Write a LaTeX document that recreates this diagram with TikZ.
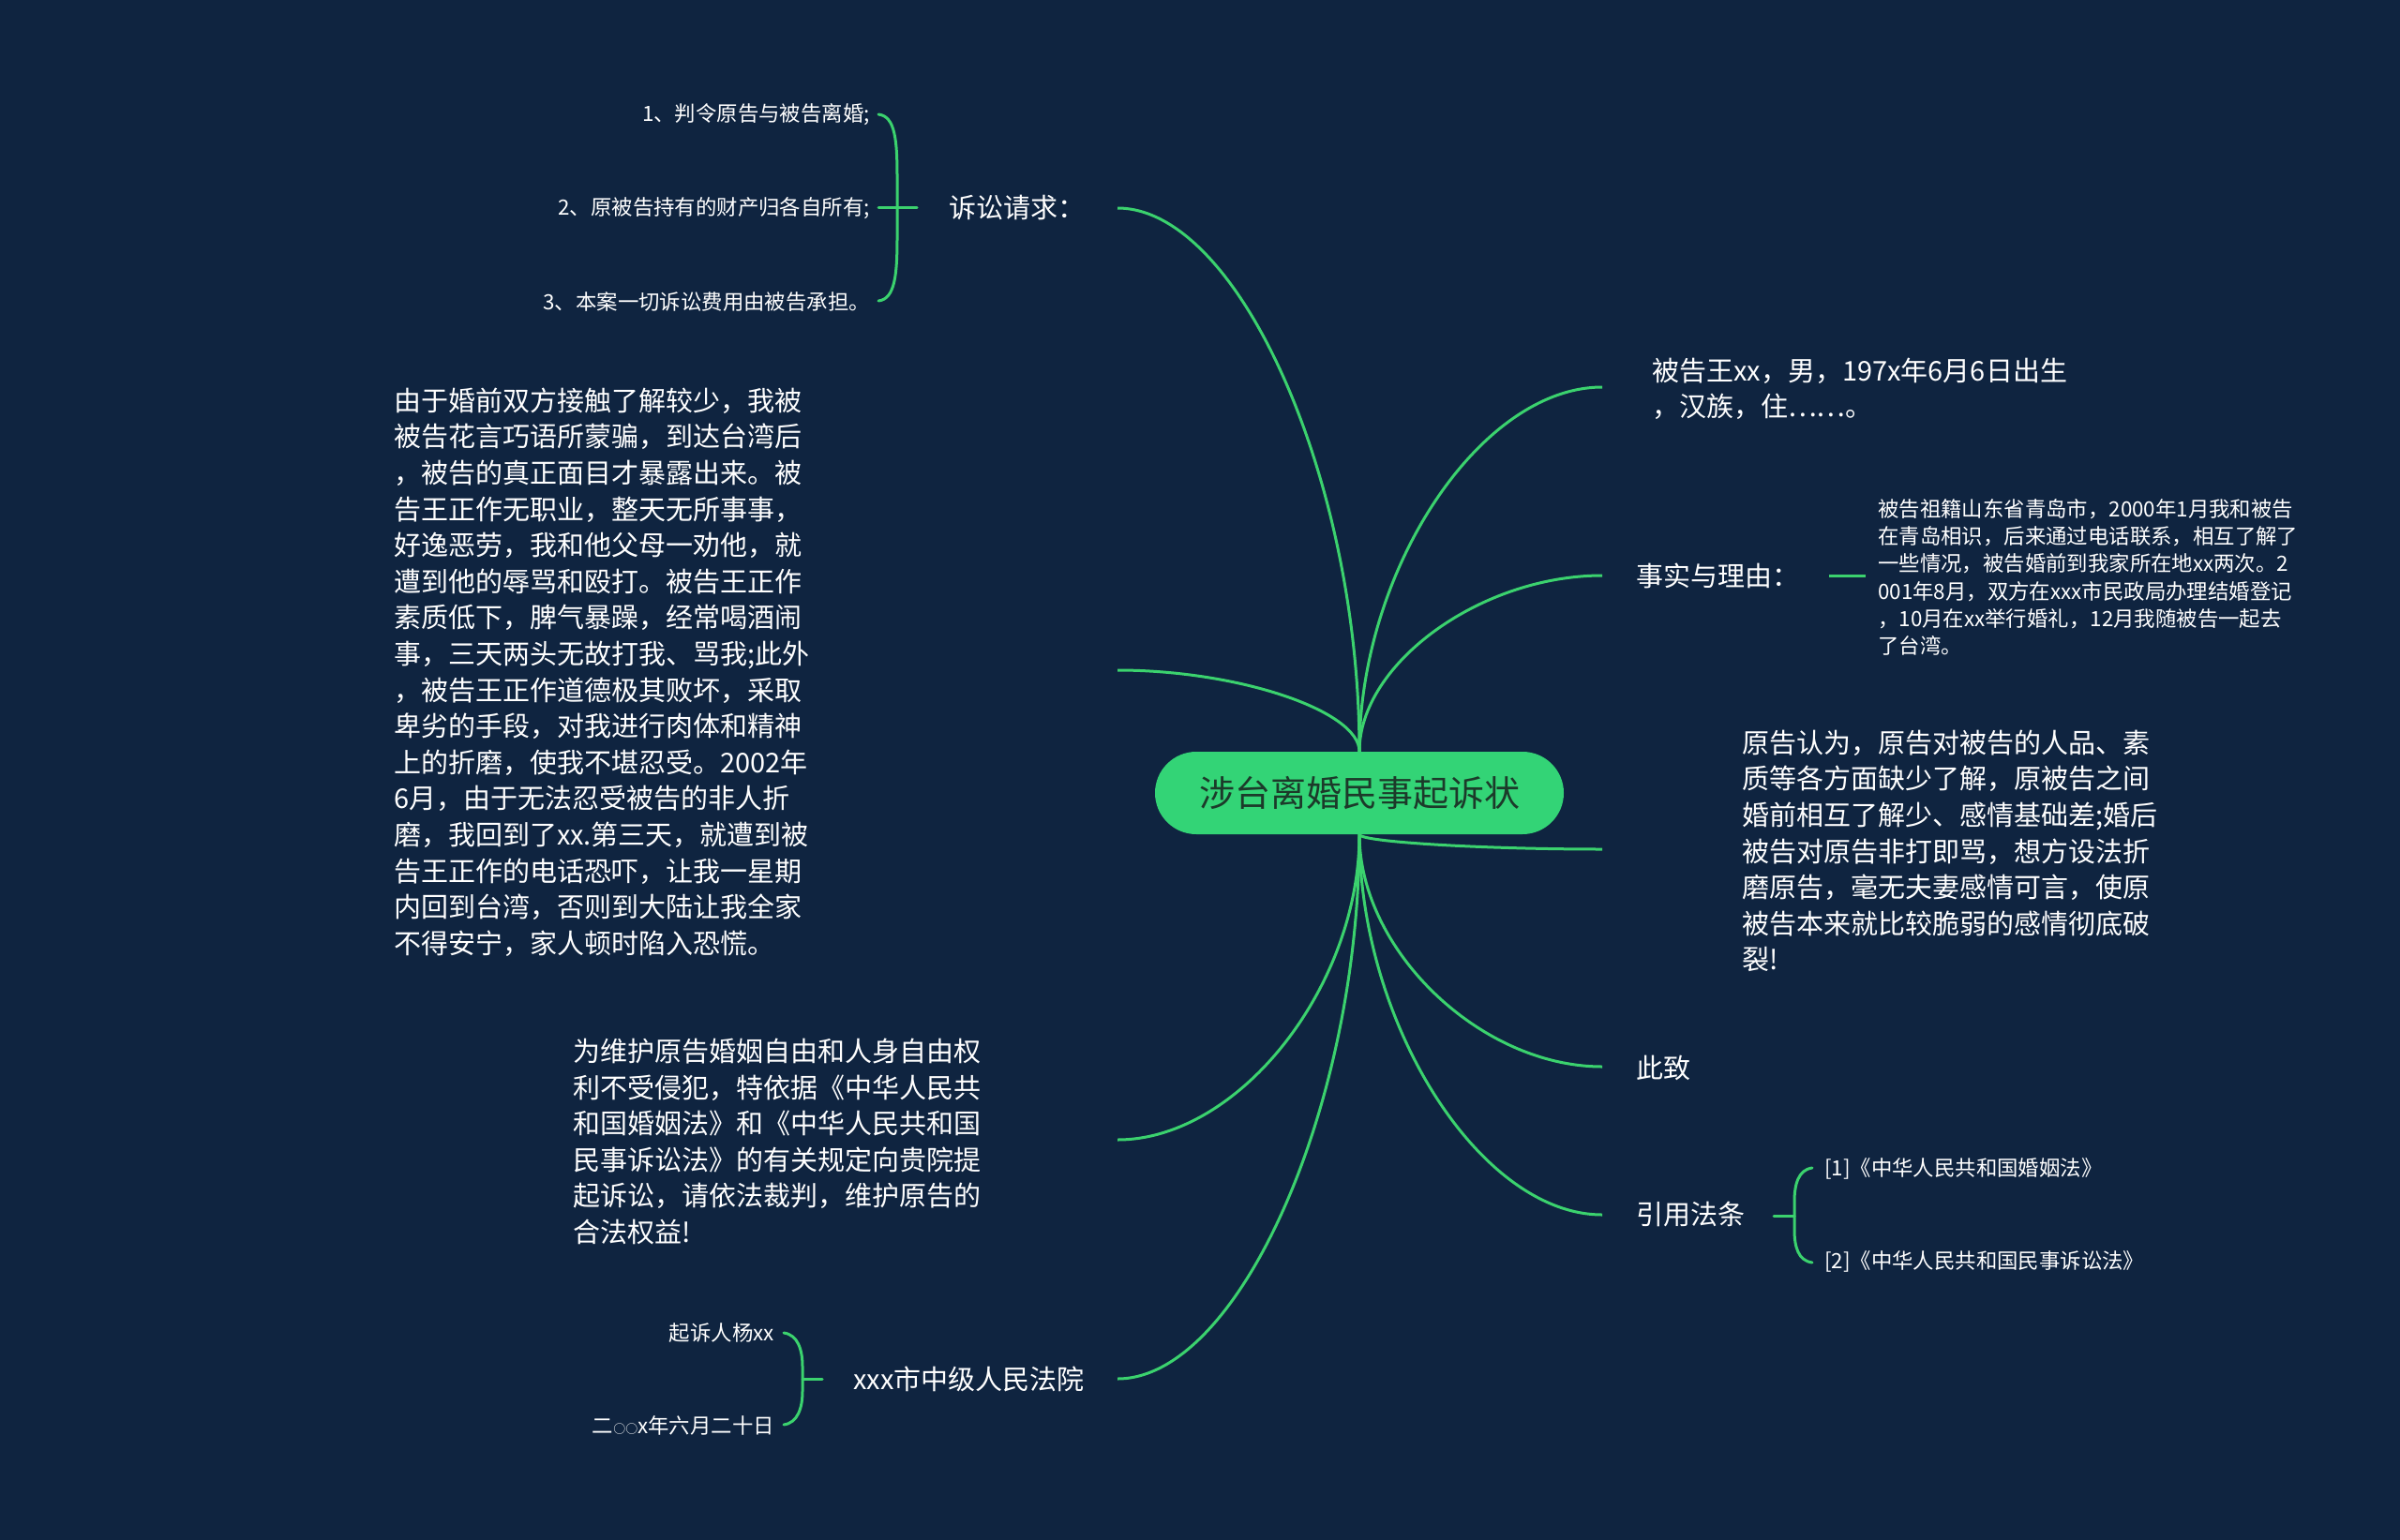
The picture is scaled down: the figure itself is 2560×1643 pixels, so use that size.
\documentclass[tikz,border=0pt]{standalone}
\usepackage{fontspec}
\setmainfont{Noto Sans CJK SC}
\usetikzlibrary{calc}
\definecolor{bg}{HTML}{0F2440}
\definecolor{lineG}{HTML}{3BD26E}
\definecolor{ctrFill}{HTML}{33D476}
\definecolor{ctrText}{HTML}{1C3A2A}
\tikzset{
  mainTxt/.style={text=white, font=\fontsize{29}{38.6}\selectfont, inner sep=0pt, align=left},
  smallTxt/.style={text=white, font=\fontsize{22.4}{29.3}\selectfont, inner sep=0pt, align=left},
  link/.style={draw=lineG, line width=3pt},
  brk/.style={draw=lineG, line width=3pt, line cap=round},
  ctrBox/.style={fill=ctrFill, rounded corners=44pt, minimum width=436pt, minimum height=88pt,
    inner sep=0pt, text=ctrText, font=\fontsize{38}{40}\selectfont}
}
\begin{document}
\begin{tikzpicture}[x=1pt,y=-1pt]
\fill[bg] (0,0) rectangle (2560,1643);
\useasboundingbox (0,0) rectangle (2560,1643);

% centre
\node[ctrBox] (ctr) at (1450,846) {涉台离婚民事起诉状};

% connector ends
\coordinate (eL1) at (1192,222);
\coordinate (eL2) at (1192,715);
\coordinate (eL3) at (1192,1216);
\coordinate (eL4) at (1192,1471);
\coordinate (eR1) at (1709,413);
\coordinate (eR2) at (1709,614);
\coordinate (eR3) at (1709,906);
\coordinate (eR4) at (1709,1138);
\coordinate (eR5) at (1709,1296);

% main connectors
\foreach \s/\e in {ctr.north/eL1,ctr.north/eL2,ctr.south/eL3,ctr.south/eL4,
                   ctr.north/eR1,ctr.north/eR2,ctr.south/eR3,ctr.south/eR4,ctr.south/eR5}{
  \draw[link] (\s) .. controls ($(\s)!0.5!(\s |- \e)$) and ($(\e)!0.5!(\s |- \e)$) .. (\e);
}

% left branch 1
\node[mainTxt, anchor=west] (L1) at (1012,222) {诉讼请求：};
\node[smallTxt, anchor=east] (L1a) at (928,122) {1、判令原告与被告离婚;};
\node[smallTxt, anchor=east] (L1b) at (928,222) {2、原被告持有的财产归各自所有;};
\node[smallTxt, anchor=east] (L1c) at (928,322) {3、本案一切诉讼费用由被告承担。};
\coordinate (b1t) at (937,122);
\coordinate (b1b) at (937,321);
\coordinate (b1m) at (937,221);
\coordinate (b1k) at (978,221);
\draw[brk] (b1t) .. controls (955,124) and (957,150) .. (957,190) -- (957,252)
  .. controls (957,292) and (955,319) .. (b1b);
\draw[brk] (b1m) -- (b1k);

% left branch 2
\node[mainTxt, anchor=west] (L2) at (420,717) {由于婚前双方接触了解较少，我被\\被告花言巧语所蒙骗，到达台湾后\\，被告的真正面目才暴露出来。被\\告王正作无职业，整天无所事事，\\好逸恶劳，我和他父母一劝他，就\\遭到他的辱骂和殴打。被告王正作\\素质低下，脾气暴躁，经常喝酒闹\\事，三天两头无故打我、骂我;此外\\，被告王正作道德极其败坏，采取\\卑劣的手段，对我进行肉体和精神\\上的折磨，使我不堪忍受。2002年\\6月，由于无法忍受被告的非人折\\磨，我回到了xx.第三天，就遭到被\\告王正作的电话恐吓，让我一星期\\内回到台湾，否则到大陆让我全家\\不得安宁，家人顿时陷入恐慌。};

% left branch 3
\node[mainTxt, anchor=west] (L3) at (611,1218) {为维护原告婚姻自由和人身自由权\\利不受侵犯，特依据《中华人民共\\和国婚姻法》和《中华人民共和国\\民事诉讼法》的有关规定向贵院提\\起诉讼，请依法裁判，维护原告的\\合法权益!};

% left branch 4
\node[mainTxt, anchor=west] (L4) at (910,1471) {xxx市中级人民法院};
\node[smallTxt, anchor=east] (L4a) at (826,1422) {起诉人杨xx};
\node[smallTxt, anchor=east] (L4b) at (826,1521) {二{\fontsize{13}{13}\selectfont ○○}x年六月二十日};
\coordinate (b4t) at (836,1422);
\coordinate (b4b) at (836,1520);
\coordinate (b4m) at (856,1471);
\coordinate (b4k) at (877,1471);
\draw[brk] (b4t) .. controls (851,1424) and (856,1440) .. (856,1458) -- (856,1484)
  .. controls (856,1502) and (851,1518) .. (b4b);
\draw[brk] (b4m) -- (b4k);

% right branch 1
\node[mainTxt, anchor=west] (R1) at (1762,415) {被告王xx，男，197x年6月6日出生\\，汉族，住……。};

% right branch 2
\node[mainTxt, anchor=west] (R2) at (1745,614) {事实与理由：};
\node[smallTxt, anchor=west] (R2a) at (2003,616) {被告祖籍山东省青岛市，2000年1月我和被告\\在青岛相识，后来通过电话联系，相互了解了\\一些情况，被告婚前到我家所在地xx两次。2\\001年8月，双方在xxx市民政局办理结婚登记\\，10月在xx举行婚礼，12月我随被告一起去\\了台湾。};
\coordinate (t2a) at (1951,614);
\coordinate (t2b) at (1990,614);
\draw[link] (t2a) -- (t2b);

% right branch 3
\node[mainTxt, anchor=west] (R3) at (1858,908) {原告认为，原告对被告的人品、素\\质等各方面缺少了解，原被告之间\\婚前相互了解少、感情基础差;婚后\\被告对原告非打即骂，想方设法折\\磨原告，毫无夫妻感情可言，使原\\被告本来就比较脆弱的感情彻底破\\裂!};

% right branch 4
\node[mainTxt, anchor=west] (R4) at (1745,1139) {此致};

% right branch 5
\node[mainTxt, anchor=west] (R5) at (1745,1296) {引用法条};
\node[smallTxt, anchor=west] (R5a) at (1946,1247) {[1]《中华人民共和国婚姻法》};
\node[smallTxt, anchor=west] (R5b) at (1946,1346) {[2]《中华人民共和国民事诉讼法》};
\coordinate (b5t) at (1933,1246);
\coordinate (b5b) at (1933,1347);
\coordinate (b5m) at (1914,1297);
\coordinate (b5k) at (1892,1297);
\draw[brk] (b5t) .. controls (1918,1248) and (1914,1264) .. (1914,1282) -- (1914,1312)
  .. controls (1914,1330) and (1918,1345) .. (b5b);
\draw[brk] (b5m) -- (b5k);
\end{tikzpicture}
\end{document}
